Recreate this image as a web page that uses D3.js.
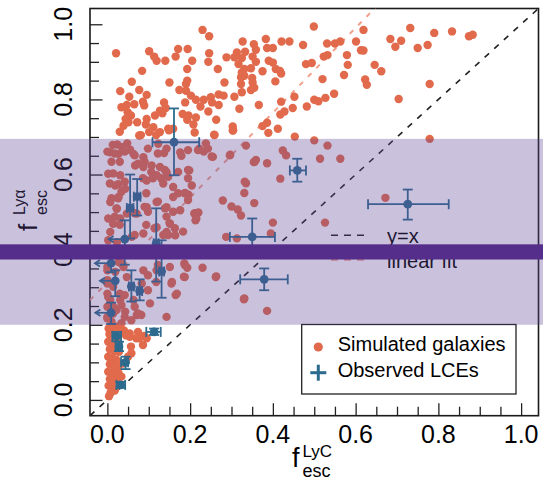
<!DOCTYPE html>
<html>
<head>
<meta charset="utf-8">
<script src="https://cdn.jsdelivr.net/npm/d3@7"></script>
<style>
  body { margin: 0; background: #fff; }
  svg { display: block; }
  text { font-family: "Liberation Sans", Arial, Helvetica, sans-serif; fill: #000; }
</style>
</head>
<body>
<svg id="chart" width="543" height="480"></svg>
<script>
// Simulated galaxies: [f_esc^LyC, f_esc^Lya]
const simulatedGalaxies = [
  [.021,.923],[.101,.928],[.113,.914],[.119,.903],[.140,.903],[.171,.934],[.165,.914],[.084,.876],[.059,.847],[.031,.822],
  [.053,.807],[.077,.825],[.095,.812],[.034,.779],[.047,.785],[.065,.787],[.086,.794],[.089,.784],[.049,.766],[.044,.748],
  [.057,.757],[.137,.792],[.141,.777],[.127,.770],[.115,.757],[.133,.763],[.150,.845],[.174,.825],[.051,.739],[.039,.730],
  [.072,.739],[.095,.748],[.093,.733],[.111,.726],[.147,.722],[.159,.722],[.077,.704],[.101,.713],[.127,.713],
  [.013,.679],[.024,.680],[.048,.683],[.035,.673],[.055,.666],[.007,.659],[.027,.655],[.063,.655],[.137,.657],[.176,.659],
  [.087,.646],[.123,.682],
  [.230,.985],[.246,.968],[.499,.994],[.327,.954],[.354,.947],[.383,.961],[.359,.932],[.386,.937],[.400,.937],[.421,.954],
  [.440,.954],[.473,.945],[.531,.949],[.550,.949],[.563,.954],[.601,.954],[.613,.931],[.194,.934],[.246,.923],[.313,.925],
  [.307,.912],[.333,.927],[.288,.912],[.325,.910],[.351,.914],[.359,.900],[.390,.903],[.400,.898],[.417,.876],[.420,.869],
  [.205,.903],[.244,.900],[.267,.881],[.317,.894],[.331,.881],[.347,.883],[.325,.872],[.331,.863],[.375,.875],[.407,.881],
  [.193,.881],[.480,.894],[.494,.897],[.523,.914],[.532,.918],[.579,.918],[.581,.892],[.520,.854],[.572,.865],[.193,.850],
  [.190,.841],[.283,.845],[.323,.859],[.350,.857],[.351,.845],[.323,.841],[.406,.848],[.355,.831],[.347,.825],[.325,.819],
  [.190,.823],[.202,.810],[.214,.799],[.233,.799],[.250,.806],[.253,.792],[.269,.813],[.281,.810],[.307,.807],[.188,.792],
  [.225,.781],[.269,.785],[.319,.775],[.366,.785],[.420,.794],[.452,.807],[.500,.799],[.510,.795],[.527,.804],[.548,.815],
  [.482,.781],[.448,.777],[.428,.768],[.418,.760],[.244,.768],[.182,.761],[.196,.757],[.214,.752],[.193,.746],[.208,.733],
  [.263,.746],[.303,.728],[.303,.717],[.375,.729],[.386,.738],[.412,.722],[.389,.711],[.258,.706],[.453,.701],[.500,.691],
  [.238,.683],[.222,.669],[.233,.661],[.335,.677],[.424,.664],[.432,.651],[.532,.677],[.252,.648],[.297,.653],[.359,.639],
  [.514,.642],[.563,.642],
  [.619,.985],[.619,.930],[.732,.990],[.684,.961],[.710,.956],[.696,.940],[.750,.937],[.774,.945],[.790,.977],[.833,.981],
  [.874,.968],[.883,.972],[.646,.892],[.662,.875],[.623,.853],[.627,.839],[.779,.841],[.704,.801],[.779,.695],
  [.198,.611],[.204,.571],[.188,.551],[.196,.546],[.210,.496],[.220,.499],[.213,.478],[.279,.531],[.300,.515],[.315,.507],
  [.323,.491],[.355,.524],[.335,.577],[.331,.551],[.354,.633],[.386,.630],[.418,.589],[.400,.472],[.395,.443],[.287,.434],
  [.313,.430],[.526,.472],[.186,.363],[.193,.352],[.230,.352],[.185,.328],[.263,.329],[.331,.270],[.386,.237],[.672,.538],
  [.030,.714],[.081,.705],[.118,.705],[.149,.718],[.211,.712],[.259,.705],[.304,.718],[.000,.661],[.018,.656],[.042,.661],
  [.030,.634],[.010,.634],[.014,.603],[.006,.576],[.026,.574],[.066,.651],[.098,.669],[.122,.656],[.143,.669],[.179,.650],
  [.195,.665],[.219,.665],[.243,.669],[.255,.647],[.296,.651],[.356,.634],[.074,.629],[.090,.634],[.106,.607],[.139,.612],
  [.086,.590],[.110,.590],[.130,.590],[.147,.594],[.171,.607],[.195,.612],[.195,.590],[.042,.581],[.034,.554],[.026,.537],
  [.010,.537],[.022,.510],[.018,.488],[.002,.483],[.030,.466],[.066,.497],[.090,.514],[.098,.501],[.122,.528],[.094,.550],
  [.139,.510],[.143,.488],[.159,.501],[.151,.470],[.171,.550],[.187,.550],[.195,.532],[.211,.497],[.215,.483],[.163,.457],
  [.183,.448],[.147,.439],[.094,.466],[.114,.457],[.066,.439],[.135,.439],[.332,.581],
  [.002,.602],[.019,.571],[.031,.598],[.043,.562],[.067,.624],[.087,.620],[.107,.624],[.127,.620],[.119,.598],[.143,.606],
  [.095,.584],[.135,.576],[.159,.567],[.007,.527],[.023,.509],[.027,.540],[.014,.469],[.031,.483],[.047,.496],[.071,.496],
  [.095,.513],[.119,.527],[.143,.513],[.159,.540],[.176,.505],[.007,.447],[.002,.425],[.023,.420],[.059,.434],[.087,.443],
  [.119,.460],[.143,.447],[.151,.469],[.164,.438],
  [.000,.354],[.027,.367],[.019,.341],[.039,.354],[.000,.319],[.014,.301],[.047,.327],[.087,.345],[.119,.345],[.151,.354],
  [.156,.314],[.083,.310],[.000,.283],[.007,.266],[.031,.266],[.063,.266],[.103,.257],[.168,.283],[.000,.248],[.014,.230],
  [.043,.235],[.071,.226],[.143,.221],[.000,.221],
  [.034,.363],[.122,.359],[.187,.359],[.262,.327],[.187,.327],[.155,.310],[.165,.279],[.330,.268],[.098,.332],[.118,.314],
  [.074,.230],[.058,.212],[.042,.221],[.034,.252],[.030,.283],[.002,.274],[.000,.310],[.000,.345],[.022,.239],[.000,.217],
  [.010,.208],[.034,.204],[.066,.248],[.082,.226],[.098,.292],[.042,.279],[.014,.248],
  [.074,.181],[.089,.170],[.086,.146],[.057,.142],[.058,.124],[.070,.164],[.054,.168],[.054,.177],[.095,.164],[.077,.164],
  [.037,.097],[.027,.071],[.050,.115],[.034,.062],
  [.003,.190],[.012,.190],[.022,.195],[.030,.190],[.005,.175],[.016,.172],[.026,.168],[.002,.155],[.012,.152],[.022,.148],
  [.006,.135],[.017,.130],[.028,.128],[.002,.115],[.011,.112],[.021,.108],[.006,.095],[.016,.090],[.026,.088],[.002,.075],
  [.011,.072],[.020,.068],[.006,.055],[.015,.050],[.025,.058],[.003,.038],[.012,.033],[.008,.020],[.018,.025],[.004,.010],
  [.040,.185],[.045,.172]
];

// Observed Lyman-continuum emitters
const lceLyC    = [.161, .459, .726, .350, .379, .055, .072, .042, .118, .009, .019, .058, .078, .131, .009, .022, .028, .044, .032, .113];
const lceLya    = [.686, .611, .521, .434, .321, .511, .541, .428, .417, .364, .317, .302, .290, .342, .232, .170, .142, .100, .040, .181];
const lceLyCLow = [.109, .441, .630, .296, .321, .047, .064, .003, .112, -.030, -.018, .052, .072, .125, -.029, .012, .020, .033, .022, .094];
const lceLyCHigh= [.222, .480, .825, .405, .436, .063, .080, .042, .124, .009, .019, .064, .084, .137, .009, .033, .035, .050, .043, .129];
const lceLyaLow = [.598, .581, .480, .380, .292, .430, .491, .360, .315, .340, .276, .262, .265, .272, .202, .156, .130, .082, .032, .173];
const lceLyaHigh= [.776, .642, .560, .483, .350, .600, .588, .478, .510, .390, .345, .345, .321, .425, .259, .181, .155, .115, .048, .190];
const lceUpperLimit = [0,0,0,0,0,0,0,1,0,1,1,0,0,0,1,0,0,0,0,0];

const axisTicks = [0, 0.2, 0.4, 0.6, 0.8, 1.0];
const tickLabels = ["0.0", "0.2", "0.4", "0.6", "0.8", "1.0"];
const fitIntercept = 0.313, fitSlope = 1.129;
const bandRange = [0.20, 0.695];
const bandLine = 0.394;

const simColor = "#e26a4c";
const lceColor = "#2c6b8e";

const svg = d3.select("#chart");
const W = 543;
const plot = { left: 90, right: 538.5, top: 8.5, bottom: 415.7 };
const x = d3.scaleLinear().domain([-0.042, 1.042]).range([plot.left, plot.right]);
const y = d3.scaleLinear().domain([-0.042, 1.042]).range([plot.bottom, plot.top]);

const defs = svg.append("defs");
defs.append("clipPath").attr("id", "plotClip").append("rect")
  .attr("x", plot.left).attr("y", plot.top)
  .attr("width", plot.right - plot.left).attr("height", plot.bottom - plot.top);

// ticks (inward), major every 0.2 and minor every 0.05
const minorTicks = d3.range(0, 1.0001, 0.05).filter(v => Math.abs(v * 5 - Math.round(v * 5)) > 1e-6);
function drawTicks(axis, tr) {
  svg.append("g").attr("transform", tr).attr("color", "#222")
    .call(axis)
    .call(g => g.select(".domain").remove())
    .call(g => g.selectAll("line").attr("stroke-width", 1.3));
}
drawTicks(d3.axisLeft(y).tickValues(axisTicks).tickSize(-12.5).tickFormat(""), `translate(${plot.left},0)`);
drawTicks(d3.axisLeft(y).tickValues(minorTicks).tickSize(-9).tickFormat(""), `translate(${plot.left},0)`);
drawTicks(d3.axisBottom(x).tickValues(axisTicks).tickSize(-12.5).tickFormat(""), `translate(0,${plot.bottom})`);
drawTicks(d3.axisBottom(x).tickValues(minorTicks).tickSize(-9).tickFormat(""), `translate(0,${plot.bottom})`);

// frame
svg.append("rect")
  .attr("x", plot.left).attr("y", plot.top)
  .attr("width", plot.right - plot.left).attr("height", plot.bottom - plot.top)
  .attr("fill", "none").attr("stroke", "#1a1a1a").attr("stroke-width", 1.6);

// tick labels
svg.append("g").selectAll("text").data(axisTicks).join("text")
  .attr("x", d => x(d)).attr("y", 443)
  .attr("text-anchor", "middle").attr("font-size", 25)
  .text((d, i) => tickLabels[i]);
svg.append("g").selectAll("text").data(axisTicks).join("text")
  .attr("transform", d => `translate(72,${y(d)}) rotate(-90)`)
  .attr("text-anchor", "middle").attr("font-size", 25)
  .text((d, i) => tickLabels[i]);

// axis titles
const xt = svg.append("g");
xt.append("text").attr("x", 292).attr("y", 467).attr("font-size", 27).text("f");
xt.append("text").attr("x", 302.5).attr("y", 456.5).attr("font-size", 17).text("LyC");
xt.append("text").attr("x", 302.5).attr("y", 476.5).attr("font-size", 18).text("esc");

const yt = svg.append("g").attr("transform", "translate(37,231) rotate(-90)");
yt.append("text").attr("x", 0).attr("y", 0).attr("font-size", 26).text("f");
yt.append("text").attr("x", 16).attr("y", -12).attr("font-size", 16).text("Lyα");
yt.append("text").attr("x", 16).attr("y", 10).attr("font-size", 16).text("esc");

// reference lines
const lines = svg.append("g").attr("clip-path", "url(#plotClip)");
const xs = x.domain();
lines.append("line")
  .attr("x1", x(xs[0])).attr("y1", y(xs[0])).attr("x2", x(xs[1])).attr("y2", y(xs[1]))
  .attr("stroke", "#222").attr("stroke-width", 1.6).attr("stroke-dasharray", "6,7");
lines.append("line")
  .attr("x1", x(xs[0])).attr("y1", y(fitIntercept + fitSlope * xs[0]))
  .attr("x2", x(xs[1])).attr("y2", y(fitIntercept + fitSlope * xs[1]))
  .attr("stroke", "#f0a08c").attr("stroke-width", 2).attr("stroke-dasharray", "5,7");

// simulated galaxies
svg.append("g").selectAll("circle").data(simulatedGalaxies).join("circle")
  .attr("cx", d => x(d[0])).attr("cy", d => y(d[1])).attr("r", 4.2)
  .attr("fill", simColor);

// observed LCEs with error bars
const lce = svg.append("g").attr("stroke", lceColor).attr("stroke-width", 1.8).attr("fill", "none");
const cap = 5;
lceLyC.forEach((vx, i) => {
  const cx = x(vx), cy = y(lceLya[i]);
  const ylo = y(lceLyaLow[i]), yhi = y(lceLyaHigh[i]);
  lce.append("line").attr("x1", cx).attr("x2", cx).attr("y1", ylo).attr("y2", yhi);
  lce.append("line").attr("x1", cx - cap).attr("x2", cx + cap).attr("y1", ylo).attr("y2", ylo);
  lce.append("line").attr("x1", cx - cap).attr("x2", cx + cap).attr("y1", yhi).attr("y2", yhi);
  const xlo = x(lceLyCLow[i]), xhi = x(lceLyCHigh[i]);
  if (lceUpperLimit[i]) {
    lce.append("line").attr("x1", cx).attr("x2", xlo).attr("y1", cy).attr("y2", cy);
    lce.append("path").attr("d", `M${xlo + 5},${cy - 3.2}L${xlo},${cy}L${xlo + 5},${cy + 3.2}`);
  } else {
    lce.append("line").attr("x1", xlo).attr("x2", xhi).attr("y1", cy).attr("y2", cy);
    lce.append("line").attr("x1", xlo).attr("x2", xlo).attr("y1", cy - cap).attr("y2", cy + cap);
    lce.append("line").attr("x1", xhi).attr("x2", xhi).attr("y1", cy - cap).attr("y2", cy + cap);
  }
});
svg.append("g").selectAll("circle").data(lceLyC).join("circle")
  .attr("cx", d => x(d)).attr("cy", (d, i) => y(lceLya[i])).attr("r", 4.4)
  .attr("fill", lceColor);

// line legend (y=x, linear fit)
const lg = svg.append("g");
lg.append("line").attr("x1", 331).attr("x2", 366).attr("y1", 235.3).attr("y2", 235.3)
  .attr("stroke", "#222").attr("stroke-width", 1.6).attr("stroke-dasharray", "7,6");
lg.append("text").attr("x", 387).attr("y", 243.3).attr("font-size", 20).text("y=x");
lg.append("line").attr("x1", 331).attr("x2", 366).attr("y1", 259.8).attr("y2", 259.8)
  .attr("stroke", "#f0a08c").attr("stroke-width", 2).attr("stroke-dasharray", "7,6");
lg.append("text").attr("x", 387).attr("y", 267.5).attr("font-size", 20).text("linear fit");

// marker legend
const ml = svg.append("g");
ml.append("rect").attr("x", 301.7).attr("y", 324.5).attr("width", 214.3).attr("height", 69.5)
  .attr("fill", "#fff").attr("stroke", "#222").attr("stroke-width", 1.3);
ml.append("circle").attr("cx", 318.3).attr("cy", 347).attr("r", 4.6).attr("fill", simColor);
ml.append("text").attr("x", 337.7).attr("y", 351).attr("font-size", 20).text("Simulated galaxies");
ml.append("line").attr("x1", 310.3).attr("x2", 326.3).attr("y1", 372.7).attr("y2", 372.7)
  .attr("stroke", lceColor).attr("stroke-width", 3);
ml.append("line").attr("x1", 318.3).attr("x2", 318.3).attr("y1", 364.7).attr("y2", 380.7)
  .attr("stroke", lceColor).attr("stroke-width", 3);
ml.append("text").attr("x", 337.7).attr("y", 377).attr("font-size", 20).text("Observed LCEs");

// highlighted f_esc^Lya range and its central value
svg.append("rect")
  .attr("x", 0).attr("width", W)
  .attr("y", y(bandRange[1])).attr("height", y(bandRange[0]) - y(bandRange[1]))
  .attr("fill", "rgb(95,70,150)").attr("fill-opacity", 0.33);
svg.append("rect")
  .attr("x", 0).attr("width", W)
  .attr("y", y(bandLine) - 7.6).attr("height", 15.2)
  .attr("fill", "#552d8b");
</script>
</body>
</html>
